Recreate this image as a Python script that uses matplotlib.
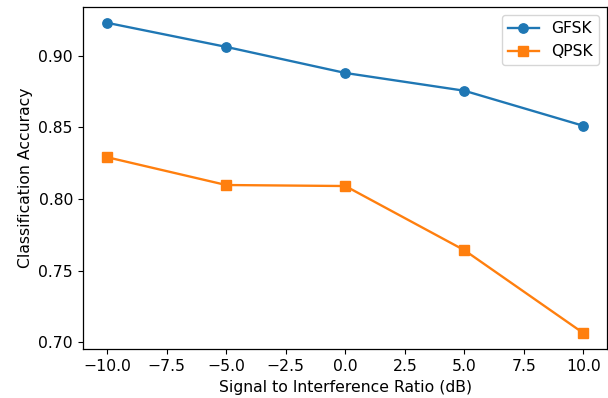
import matplotlib
matplotlib.use("Agg")
import matplotlib.pyplot as plt

sir = [-10, -5, 0, 5, 10]
gfsk = [0.9229, 0.9061, 0.8879, 0.8755, 0.8510]
qpsk = [0.8291, 0.8097, 0.8090, 0.7642, 0.7063]

s = 1.125
plt.rcParams['font.size'] = 10 * s
plt.rcParams['xtick.major.size'] = 3.5 * s
plt.rcParams['ytick.major.size'] = 3.5 * s
plt.rcParams['axes.linewidth'] = 0.8 * s

fig = plt.figure(figsize=(6.08, 3.98), dpi=100)
ax = fig.add_axes([83.3 / 608, 1 - 348.7 / 398, (607.3 - 83.3) / 608, (348.7 - 7.3) / 398])
ax.plot(sir, gfsk, marker='o', label='GFSK', lw=1.5 * s, ms=6 * s)
ax.plot(sir, qpsk, marker='s', label='QPSK', lw=1.5 * s, ms=6 * s)
ax.set_xlabel('Signal to Interference Ratio (dB)')
ax.set_ylabel('Classification Accuracy')
ax.legend(loc='upper right')
fig.savefig('out.png')
